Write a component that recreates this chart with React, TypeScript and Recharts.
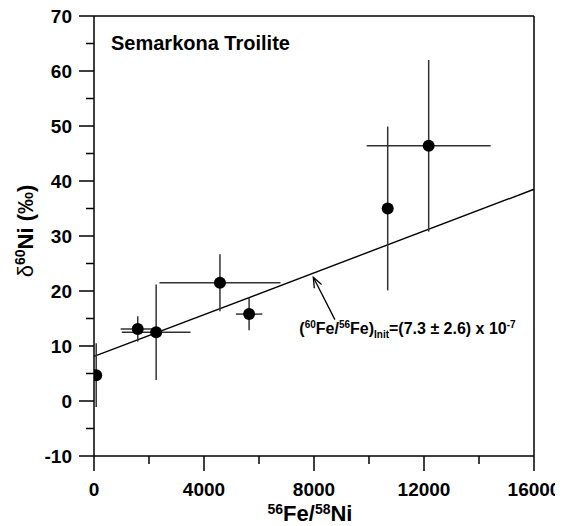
import React from 'react';
import {
  ComposedChart,
  Scatter,
  XAxis,
  YAxis,
  ErrorBar,
  ReferenceLine,
  ReferenceDot,
  Label,
} from 'recharts';

// ---- data ----
const fe56ni58 = [80, 1590, 2260, 4580, 5640, 10680, 12170];
const delta60Ni = [4.7, 13.1, 12.5, 21.5, 15.8, 35.0, 46.4];
const xErrors = [0, 620, 1250, 2200, 480, 0, 2255];
const yErrors = [5.8, 2.3, 8.7, 5.2, 2.95, 14.9, 15.6];

const xTicks = [0, 2000, 4000, 6000, 8000, 10000, 12000, 14000, 16000];
const xLabelled = [0, 4000, 8000, 12000, 16000];
const yTicks = [-10, -5, 0, 5, 10, 15, 20, 25, 30, 35, 40, 45, 50, 55, 60, 65, 70];
const yLabelled = [-10, 0, 10, 20, 30, 40, 50, 60, 70];

const fitX = [0, 16000];
const fitY = [8.1, 38.5];

const arrowX = [8760, 7975];
const arrowY = [14.8, 22.5];

const titleText = 'Semarkona Troilite';
const titleAnchor = { x: 618, y: 63.8 };
const noteAnchor = { x: 11400, y: 12.2 };

const points = fe56ni58.map((x, i) => ({
  x,
  y: delta60Ni[i],
  xErr: xErrors[i],
  yErr: yErrors[i],
}));

const FONT = '"Liberation Sans", Arial, Helvetica, sans-serif';

const XTick = (props: any) => {
  const { x, y, payload } = props;
  const major = xLabelled.includes(payload.value);
  return (
    <g>
      <line x1={x} x2={x} y1={y} y2={y + (major ? 15 : 8)} stroke="#000" strokeWidth={1.5} />
      {major && (
        <text x={x} y={y + 40} textAnchor="middle" fontSize={19} fontWeight="bold" fontFamily={FONT} fill="#000">
          {payload.value}
        </text>
      )}
    </g>
  );
};

const YTick = (props: any) => {
  const { x, y, payload } = props;
  const major = yLabelled.includes(payload.value);
  return (
    <g>
      <line x1={x} x2={x - (major ? 15 : 8)} y1={y} y2={y} stroke="#000" strokeWidth={1.5} />
      {major && (
        <text x={x - 22} y={y + 6.5} textAnchor="end" fontSize={19} fontWeight="bold" fontFamily={FONT} fill="#000">
          {payload.value}
        </text>
      )}
    </g>
  );
};

const YAxisLabel = (props: any) => {
  const vb = props.viewBox || { x: 0, y: 16, width: 86, height: 440 };
  const cx = 25;
  const cy = vb.y + vb.height / 2 - 5;
  return (
    <text
      x={cx}
      y={cy}
      transform={`rotate(-90, ${cx}, ${cy})`}
      textAnchor="middle"
      fontFamily={FONT}
      fontWeight="bold"
      fontSize={22}
      fill="#000"
    >
      <tspan fontWeight="normal">δ</tspan>
      <tspan fontSize={14} dy={-8}>60</tspan>
      <tspan dy={8}>Ni (‰)</tspan>
    </text>
  );
};

const XAxisLabel = (props: any) => {
  const vb = props.viewBox || { x: 86, y: 456, width: 440, height: 70 };
  const cx = vb.x + vb.width / 2 - 4;
  const cy = 521;
  return (
    <text x={cx} y={cy} textAnchor="middle" fontFamily={FONT} fontWeight="bold" fontSize={22} fill="#000">
      <tspan fontSize={14} dy={-7}>56</tspan>
      <tspan dy={7}>Fe/</tspan>
      <tspan fontSize={14} dy={-7}>58</tspan>
      <tspan dy={7}>Ni</tspan>
    </text>
  );
};

const TitleShape = (props: any) => (
  <text x={props.cx} y={props.cy} textAnchor="start" fontFamily={FONT} fontWeight="bold" fontSize={20} fill="#000">
    {titleText}
  </text>
);

const NoteShape = (props: any) => (
  <text x={props.cx} y={props.cy} textAnchor="middle" fontFamily={FONT} fontWeight="bold" fontSize={16} fill="#000">
    <tspan>(</tspan>
    <tspan fontSize={10} dy={-6}>60</tspan>
    <tspan dy={6}>Fe/</tspan>
    <tspan fontSize={10} dy={-6}>56</tspan>
    <tspan dy={6}>Fe)</tspan>
    <tspan fontSize={10} dy={4}>Init</tspan>
    <tspan dy={-4}>=(7.3 ± 2.6) x 10</tspan>
    <tspan fontSize={10} dy={-6}>-7</tspan>
  </text>
);

const ArrowShape = (props: any) => {
  const { x1, y1, x2, y2 } = props;
  const ang = Math.atan2(y2 - y1, x2 - x1);
  const len = 11;
  const spread = 0.38;
  const ax1 = x2 - len * Math.cos(ang - spread);
  const ay1 = y2 - len * Math.sin(ang - spread);
  const ax2 = x2 - len * Math.cos(ang + spread);
  const ay2 = y2 - len * Math.sin(ang + spread);
  return (
    <g>
      <line x1={x1} y1={y1} x2={x2} y2={y2} stroke="#000" strokeWidth={1.3} />
      <polyline points={`${ax1},${ay1} ${x2},${y2} ${ax2},${ay2}`} fill="none" stroke="#000" strokeWidth={1.3} />
    </g>
  );
};

const Dot = (props: any) => <circle cx={props.cx} cy={props.cy} r={6} fill="#000" />;

export default function App() {
  return (
    <div style={{ marginTop: -8 }}>
      <ComposedChart
        width={555}
        height={526}
        margin={{ top: 16, right: 29, bottom: 0, left: 0 }}
        style={{ background: '#fff' }}
      >
        <XAxis
          type="number"
          dataKey="x"
          domain={[0, 16000]}
          ticks={xTicks}
          interval={0}
          allowDataOverflow
          height={70}
          tickSize={0}
          tickMargin={0}
          tickLine={false}
          axisLine={{ stroke: '#000', strokeWidth: 1.5 }}
          tick={<XTick />}
        >
          <Label content={<XAxisLabel />} />
        </XAxis>
        <YAxis
          type="number"
          dataKey="y"
          domain={[-10, 70]}
          ticks={yTicks}
          interval={0}
          allowDataOverflow
          width={86}
          tickSize={0}
          tickMargin={0}
          tickLine={false}
          axisLine={{ stroke: '#000', strokeWidth: 1.5 }}
          tick={<YTick />}
        >
          <Label content={<YAxisLabel />} />
        </YAxis>
        <ReferenceLine y={70} stroke="#000" strokeWidth={1.5} />
        <ReferenceLine x={16000} stroke="#000" strokeWidth={1.5} />
        <ReferenceLine
          segment={[
            { x: fitX[0], y: fitY[0] },
            { x: fitX[1], y: fitY[1] },
          ]}
          stroke="#000"
          strokeWidth={1.4}
        />
        <ReferenceLine
          segment={[
            { x: arrowX[0], y: arrowY[0] },
            { x: arrowX[1], y: arrowY[1] },
          ]}
          shape={<ArrowShape />}
        />
        <ReferenceDot x={titleAnchor.x} y={titleAnchor.y} r={0} shape={<TitleShape />} />
        <ReferenceDot x={noteAnchor.x} y={noteAnchor.y} r={0} shape={<NoteShape />} />
        <Scatter data={points} isAnimationActive={false} shape={<Dot />}>
          <ErrorBar dataKey="xErr" direction="x" width={0} stroke="#333" strokeWidth={1.5} />
          <ErrorBar dataKey="yErr" direction="y" width={0} stroke="#333" strokeWidth={1.5} />
        </Scatter>
      </ComposedChart>
    </div>
  );
}
